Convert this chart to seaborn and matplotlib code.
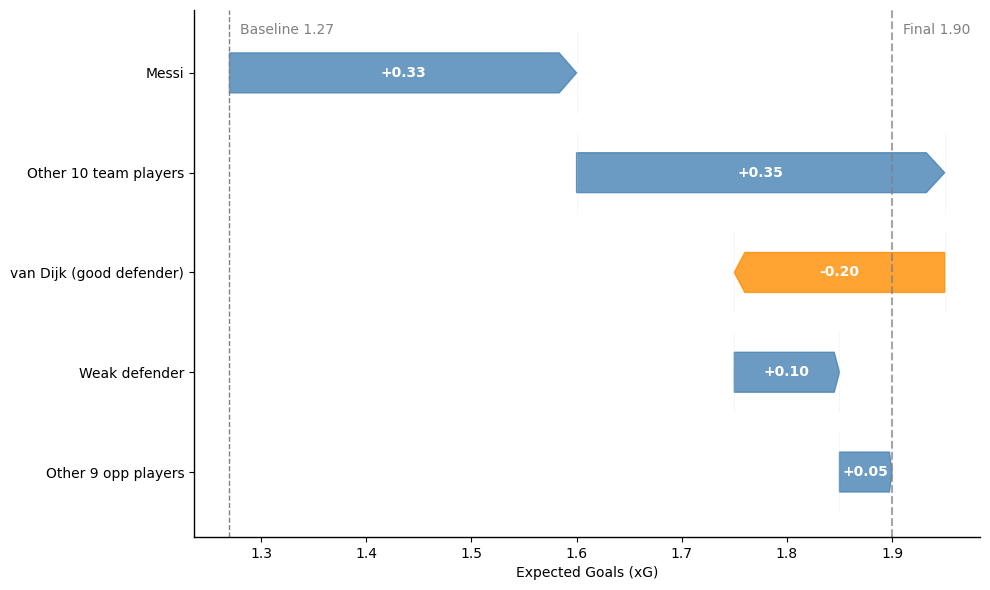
import matplotlib
matplotlib.use("Agg")
import matplotlib.pyplot as plt
import seaborn as sns
import numpy as np

players = ["Messi", "Other 10 team players", "van Dijk (good defender)",
           "Weak defender", "Other 9 opp players"]
contributions = [0.33, 0.35, -0.20, 0.10, 0.05]
baseline = 1.27
final = 1.90

sns.set_theme(style="white")
plt.rcParams['font.family'] = ['DejaVu Sans']
for k in ["text.color", "axes.labelcolor", "xtick.color", "ytick.color"]:
    plt.rcParams[k] = "black"

fig, ax = plt.subplots(figsize=(9.9, 5.9), dpi=100)

starts = baseline + np.concatenate([[0], np.cumsum(contributions)[:-1]])
ends = starts + np.array(contributions)

h = 0.2
for i, (s, e, c) in enumerate(zip(starts, ends, contributions)):
    color = "steelblue" if c >= 0 else "darkorange"
    head = 0.05 * abs(c) * np.sign(c)
    xs = [s, e - head, e, e - head, s]
    ys = [i - h, i - h, i, i + h, i + h]
    ax.fill(xs, ys, color=color, alpha=0.8, edgecolor=color, linewidth=1)
    ax.vlines([s, e], i - 0.4, i + 0.4, color="lightgray", linewidth=0.5,
              linestyle=":", alpha=0.7)
    ax.text((s + e) / 2, i, f"{c:+.2f}", ha="center", va="center",
            color="white", fontweight="bold", fontsize=10)

ax.axvline(baseline, color="gray", linestyle="--", linewidth=1)
ax.axvline(final, color="gray", linestyle="--", linewidth=1.5, alpha=0.7)
ax.text(baseline + 0.01, -0.43, f"Baseline {baseline:.2f}", color="gray",
        fontsize=10, va="center", ha="left")
ax.text(final + 0.01, -0.43, f"Final {final:.2f}", color="gray",
        fontsize=10, va="center", ha="left")

ax.set_yticks(range(len(players)))
ax.set_yticklabels(players)
ax.set_ylim(4.65, -0.63)
ax.set_xlim(1.2363, 1.9837)
ax.set_xlabel("Expected Goals (xG)", fontsize=10)
ax.tick_params(axis="both", labelsize=10, length=3.5, width=0.8,
               left=True, bottom=True, colors="black")
for sp in ["left", "bottom"]:
    ax.spines[sp].set_color("black")
    ax.spines[sp].set_linewidth(1)
sns.despine(ax=ax)

fig.subplots_adjust(left=0.196, right=0.990, top=0.983, bottom=0.090)
fig.savefig("out.png", dpi=100)
